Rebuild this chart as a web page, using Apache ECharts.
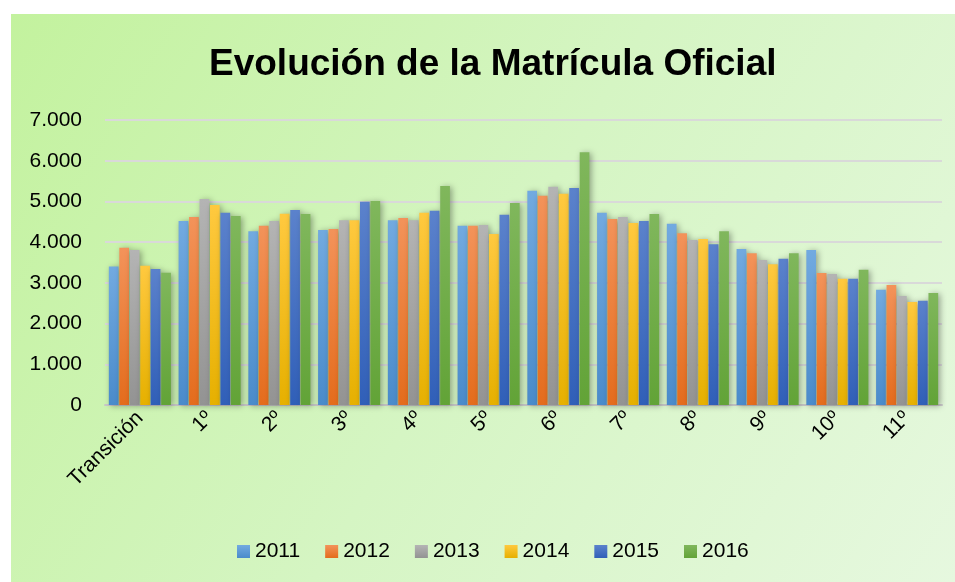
<!DOCTYPE html>
<html>
<head>
<meta charset="utf-8">
<script src="https://cdn.jsdelivr.net/npm/echarts@6/dist/echarts.min.js"></script>
<style>
  html, body { margin: 0; padding: 0; background: #fff; }
  #main { width: 955px; height: 582px; }
</style>
</head>
<body>
<div id="main"></div>
<script>
var categories = ['Transición', '1º', '2º', '3º', '4º', '5º', '6º', '7º', '8º', '9º', '10º', '11º'];
var years = ['2011', '2012', '2013', '2014', '2015', '2016'];
var v2011 = [3400, 4520, 4270, 4300, 4540, 4400, 5260, 4720, 4450, 3830, 3810, 2830];
var v2012 = [3860, 4620, 4400, 4320, 4590, 4400, 5140, 4570, 4220, 3730, 3240, 2950];
var v2013 = [3810, 5060, 4520, 4540, 4540, 4420, 5360, 4620, 4050, 3560, 3220, 2680];
var v2014 = [3420, 4910, 4700, 4540, 4720, 4200, 5190, 4470, 4080, 3460, 3100, 2530];
var v2015 = [3340, 4720, 4790, 4990, 4770, 4670, 5330, 4520, 3950, 3590, 3100, 2560];
var v2016 = [3250, 4640, 4690, 5010, 5380, 4960, 6210, 4690, 4270, 3730, 3320, 2750];
var seriesValues = [v2011, v2012, v2013, v2014, v2015, v2016];
// colores tipo Office: [arriba, abajo]
var barColors = [
  ['#72aae0', '#4a8bcb'],
  ['#f3935a', '#e46c1c'],
  ['#b4b4b4', '#939393'],
  ['#ffc93f', '#e6b000'],
  ['#5b82cc', '#305fb8'],
  ['#80b75c', '#62a337']
];
var legendColors = ['#5b9bd5', '#ed7d31', '#a5a5a5', '#ffc000', '#4472c4', '#70ad47'];

var chart = echarts.init(document.getElementById('main'));

var series = years.map(function (y, i) {
  return {
    name: y,
    type: 'bar',
    data: seriesValues[i],
    barGap: '8%',
    barCategoryGap: '11%',
    itemStyle: {
      color: new echarts.graphic.LinearGradient(0, 0, 0, 1, [
        { offset: 0, color: barColors[i][0] },
        { offset: 1, color: barColors[i][1] }
      ]),
      shadowColor: 'rgba(0,0,0,0.35)',
      shadowBlur: 6,
      shadowOffsetX: 2,
      shadowOffsetY: 1
    }
  };
});

var option = {
  backgroundColor: '#fff',
  animation: false,
  color: legendColors,
  graphic: [{
    type: 'rect',
    left: 11, top: 14, z: -10,
    shape: { width: 944, height: 568 },
    style: {
      fill: new echarts.graphic.LinearGradient(0, 0, 1, 1, [
        { offset: 0, color: '#c3f29e' },
        { offset: 0.5, color: '#d5f5c3' },
        { offset: 1, color: '#e6f8df' }
      ])
    },
    silent: true
  }],
  title: {
    text: 'Evolución de la Matrícula Oficial',
    left: 204,
    top: 41,
    textStyle: {
      fontFamily: 'Liberation Sans',
      fontWeight: 'bold',
      fontSize: 37,
      color: '#000'
    }
  },
  legend: {
    data: years,
    bottom: 15,
    left: 232,
    itemWidth: 13,
    itemHeight: 13,
    itemGap: 25,
    icon: 'rect',
    textStyle: { fontFamily: 'Liberation Sans', fontSize: 21, color: '#000' }
  },
  grid: { left: 105, right: 13, top: 120, bottom: 177, containLabel: false },
  xAxis: {
    type: 'category',
    data: categories,
    axisLine: { lineStyle: { color: '#c8c8c8', width: 2 } },
    axisTick: { show: false },
    axisLabel: {
      rotate: 45,
      interval: 0,
      margin: 10,
      fontFamily: 'Liberation Sans',
      fontSize: 21,
      color: '#000'
    }
  },
  yAxis: {
    type: 'value',
    min: 0,
    max: 7000,
    interval: 1000,
    axisLine: { show: false },
    axisTick: { show: false },
    splitLine: { lineStyle: { color: '#d9d9d9', width: 2 } },
    axisLabel: {
      margin: 23,
      fontFamily: 'Liberation Sans',
      fontSize: 21,
      color: '#000',
      formatter: function (v) {
        return v.toString().replace(/\B(?=(\d{3})+(?!\d))/g, '.');
      }
    }
  },
  series: series
};

chart.setOption(option);
</script>
</body>
</html>
